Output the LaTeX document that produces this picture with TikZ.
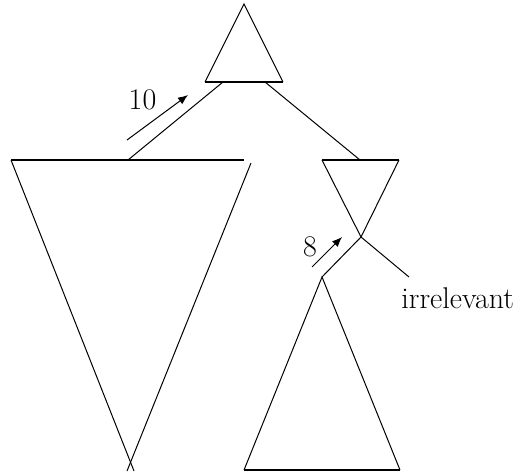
\documentclass[tikz,border=0pt]{standalone}
\usepackage{tikz}
\usetikzlibrary{arrows.meta,positioning}
\definecolor{ink}{RGB}{0,0,0}
\tikzset{
 edge/.style={draw=ink,line width=0.5pt},
 rim/.style={draw=ink,line width=1.1pt},
 flow/.style={draw=ink,line width=0.5pt,-{Latex[length=5pt,width=4pt]}},
 lbl/.style={font=\fontsize{15}{18}\selectfont,inner sep=0pt}
}
\begin{document}
\begin{tikzpicture}[x=0.5pt,y=-0.5pt,>=Latex]
 \useasboundingbox (0,0) rectangle (528,471);
 % top subtree
 \coordinate (ta) at (244,4);
 \coordinate (tl) at (205,82); \coordinate (tr) at (283,82);
 \coordinate (tel) at (223,82); \coordinate (ter) at (265,82);
 \draw[edge] (tl) -- (ta) -- (tr);
 \draw[rim] (tl) -- (tr);
 % big left subtree
 \coordinate (bl) at (11,160); \coordinate (br) at (244,160);
 \coordinate (bm) at (128,160); \coordinate (bq) at (251,163);
 \coordinate (bx) at (134,471); \coordinate (by) at (127,471);
 \draw[rim] (bl) -- (br);
 \draw[edge] (bl) -- (bx);
 \draw[edge] (bq) -- (by);
 % right inverted subtree
 \coordinate (rl) at (322,160); \coordinate (rr) at (399,160);
 \coordinate (rm) at (360,160); \coordinate (rx) at (361,237);
 \draw[rim] (rl) -- (rr);
 \draw[edge] (rl) -- (rx) -- (rr);
 % lower subtree
 \coordinate (la) at (322,277);
 \coordinate (ll) at (244,470); \coordinate (lr) at (400,470);
 \coordinate (ir) at (409,277);
 \draw[edge] (ll) -- (la) -- (lr);
 \draw[edge,line width=0.8pt] (ll) -- (lr);
 % links
 \draw[edge] (tel) -- (bm);
 \draw[edge] (ter) -- (rm);
 \draw[edge] (rx) -- (la);
 \draw[edge] (rx) -- (ir);
 % flow arrows
 \coordinate (f1) at (127,140); \coordinate (f2) at (188,95);
 \coordinate (g1) at (312,267); \coordinate (g2) at (342,237);
 \draw[flow] (f1) -- (f2);
 \draw[flow] (g1) -- (g2);
 \node[lbl] (ten) at (142.5,100) {10};
 \node[lbl] (eight) at (310,247) {8};
 \node[lbl,anchor=base west] (irr) at (401,308) {irrelevant};
\end{tikzpicture}
\end{document}
